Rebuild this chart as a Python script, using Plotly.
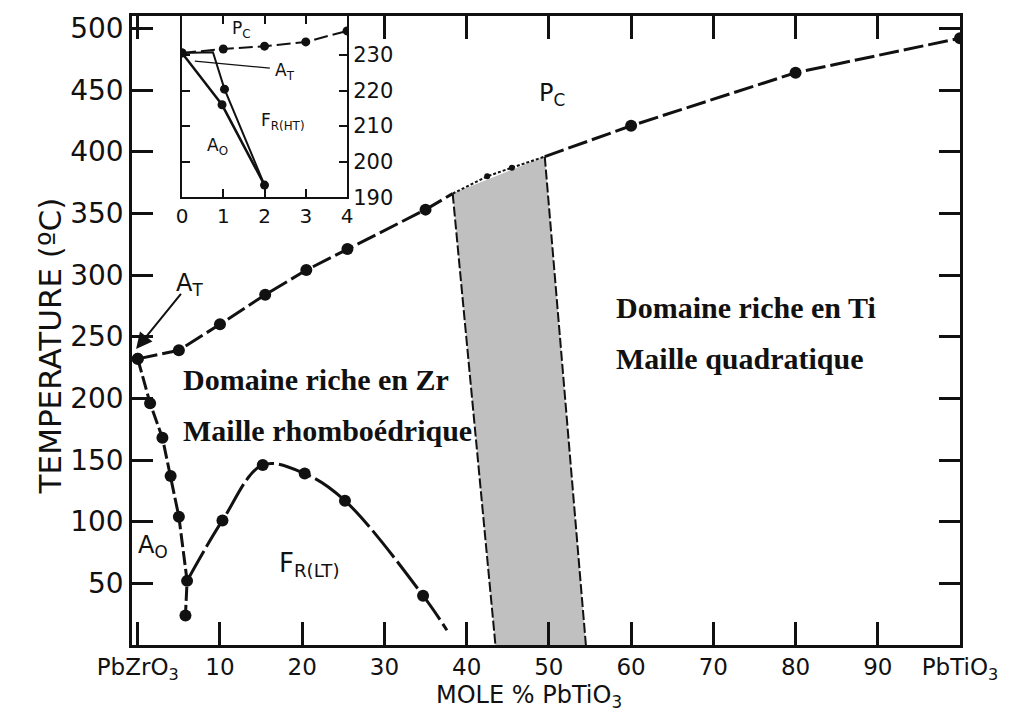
import plotly.graph_objects as go

# ---- main diagram: PbZrO3 - PbTiO3 phase boundaries ----
# Curie line P_C (cubic paraelectric boundary)
pc_x = [0, 5, 10, 15.5, 20.5, 25.5, 35, 42.5, 45.5, 60, 80, 100]
pc_y = [232, 239, 260, 284, 304, 321, 353, 380, 387, 421, 464, 492]
pc_small = [42.5, 45.5]          # compositions marked with small dots

# A_O / F_R boundary (antiferroelectric orthorhombic)
ao_x = [0, 1.5, 3, 4, 5, 6, 5.8]
ao_y = [232, 196, 168, 137, 104, 52, 24]

# F_R(LT) / F_R(HT) boundary
frl_x = [6, 10.3, 15.2, 20.3, 25.2, 34.7, 37.6]
frl_y = [52, 101, 146, 139, 117, 40, 12]
frl_marked = [10.3, 15.2, 20.3, 25.2, 34.7]

# morphotropic region (top-left, top-right, bottom-right, bottom-left)
mpb_x = [38.3, 49.5, 54.5, 43.5]
mpb_y = [366, 396, 0, 0]

x_ticks = [0, 10, 20, 30, 40, 50, 60, 70, 80, 90, 100]
x_ticktext = ["PbZrO<sub>3</sub>", "10", "20", "30", "40", "50",
              "60", "70", "80", "90", "PbTiO<sub>3</sub>"]
y_ticks = [50, 100, 150, 200, 250, 300, 350, 400, 450, 500]

# ---- inset: PbZrO3-rich corner ----
ins_pc_x = [0, 1, 2, 3, 4]
ins_pc_y = [230.6, 231.7, 232.5, 233.7, 236.8]
ins_ao_x = [0, 0.97, 2]
ins_ao_y = [230.6, 216, 193.4]
ins_at_x = [0, 0.75, 1.03, 2]
ins_at_y = [230.6, 230.8, 220.4, 193.4]
ins_at_lead_x = [0.31, 2.13]
ins_at_lead_y = [228.3, 226.3]
ins_x_ticks = [0, 1, 2, 3, 4]
ins_y_ticks = [190, 200, 210, 220, 230]

INK = "#111111"
SANS = "DejaVu Sans"
SERIF = "Liberation Serif"
DASH = "20px,5px"

fig = go.Figure()

# shaded morphotropic region
fig.add_trace(go.Scatter(x=mpb_x + [mpb_x[0]], y=mpb_y + [mpb_y[0]], mode="lines",
                         fill="toself", fillcolor="#c0c0c0",
                         line=dict(width=0), hoverinfo="skip"))
fig.add_trace(go.Scatter(x=[mpb_x[0], mpb_x[3]], y=[mpb_y[0], mpb_y[3]], mode="lines",
                         line=dict(color=INK, width=2, dash="10px,3px")))
fig.add_trace(go.Scatter(x=[mpb_x[1], mpb_x[2]], y=[mpb_y[1], mpb_y[2]], mode="lines",
                         line=dict(color=INK, width=2, dash="10px,3px")))

# Curie line split around the shaded region
left_x = [x for x in pc_x if x <= 35] + [mpb_x[0]]
left_y = [y for x, y in zip(pc_x, pc_y) if x <= 35] + [mpb_y[0]]
mid_x = [mpb_x[0]] + [x for x in pc_x if mpb_x[0] < x < mpb_x[1]] + [mpb_x[1]]
mid_y = [mpb_y[0]] + [y for x, y in zip(pc_x, pc_y) if mpb_x[0] < x < mpb_x[1]] + [mpb_y[1]]
right_x = [mpb_x[1]] + [x for x in pc_x if x >= 60]
right_y = [mpb_y[1]] + [y for x, y in zip(pc_x, pc_y) if x >= 60]

fig.add_trace(go.Scatter(x=left_x, y=left_y, mode="lines",
                         line=dict(color=INK, width=3, dash=DASH)))
fig.add_trace(go.Scatter(x=mid_x, y=mid_y, mode="lines",
                         line=dict(color=INK, width=2, dash="3px,2px")))
fig.add_trace(go.Scatter(x=right_x, y=right_y, mode="lines",
                         line=dict(color=INK, width=3, dash=DASH)))
fig.add_trace(go.Scatter(x=pc_x, y=pc_y, mode="markers",
                         marker=dict(color=INK, opacity=1, line=dict(width=0),
                                     size=[6 if x in pc_small else 12 for x in pc_x])))

# A_O boundary
fig.add_trace(go.Scatter(x=ao_x, y=ao_y, mode="lines+markers",
                         line=dict(color=INK, width=3, dash="14px,4px"),
                         marker=dict(color=INK, size=12, opacity=1)))

# F_R(LT) boundary
fig.add_trace(go.Scatter(x=frl_x, y=frl_y, mode="lines", line_shape="spline",
                         line=dict(color=INK, width=3, dash="34px,5px")))
fig.add_trace(go.Scatter(x=frl_marked, y=[y for x, y in zip(frl_x, frl_y) if x in frl_marked],
                         mode="markers", marker=dict(color=INK, size=12, opacity=1,
                                                     line=dict(width=0))))

# inset traces
fig.add_trace(go.Scatter(x=ins_pc_x, y=ins_pc_y, xaxis="x2", yaxis="y2", mode="lines+markers",
                         line=dict(color=INK, width=2, dash="14px,5px"),
                         marker=dict(color=INK, size=9, opacity=1)))
fig.add_trace(go.Scatter(x=ins_ao_x, y=ins_ao_y, xaxis="x2", yaxis="y2", mode="lines+markers",
                         line=dict(color=INK, width=2.5), marker=dict(color=INK, size=9, opacity=1)))
fig.add_trace(go.Scatter(x=ins_at_x, y=ins_at_y, xaxis="x2", yaxis="y2", mode="lines",
                         line=dict(color=INK, width=2)))
fig.add_trace(go.Scatter(x=[ins_at_x[2]], y=[ins_at_y[2]], xaxis="x2", yaxis="y2", mode="markers",
                         marker=dict(color=INK, size=9, opacity=1)))
fig.add_trace(go.Scatter(x=ins_at_lead_x, y=ins_at_lead_y, xaxis="x2", yaxis="y2", mode="lines",
                         line=dict(color=INK, width=1.2)))

ann = []


def label(x, y, text, size, xref="x", yref="y", font=SANS, anchor="center", bold=False):
    ann.append(dict(x=x, y=y, xref=xref, yref=yref, text=f"<b>{text}</b>" if bold else text,
                    showarrow=False, xanchor=anchor, yanchor="middle",
                    font=dict(family=font, size=size, color=INK)))


label(50.4, 446, "P<sub>C</sub>", 24)
label(6.3, 292, "A<sub>T</sub>", 24)
label(1.8, 80, "A<sub>O</sub>", 24)
label(20.9, 65, "F<sub>R(LT)</sub>", 26)
ann.append(dict(x=-0.2, y=240, ax=5.4, ay=286, xref="x", yref="y", axref="x", ayref="y",
                text="", showarrow=True, arrowhead=2, arrowsize=1.6, arrowwidth=2,
                arrowcolor=INK))

label(5.2, 215, "Domaine riche en Zr", 30, font=SERIF, anchor="left", bold=True)
label(5.2, 174, "Maille rhomboédrique", 30, font=SERIF, anchor="left", bold=True)
label(57.9, 274, "Domaine riche en Ti", 30, font=SERIF, anchor="left", bold=True)
label(57.9, 232, "Maille quadratique", 30, font=SERIF, anchor="left", bold=True)

# inset labels
label(1.45, 237.3, "P<sub>C</sub>", 17, "x2", "y2")
label(2.5, 225.3, "A<sub>T</sub>", 17, "x2", "y2")
label(2.45, 211.4, "F<sub>R(HT)</sub>", 17, "x2", "y2")
label(0.87, 204.4, "A<sub>O</sub>", 17, "x2", "y2")

# axis titles
ann.append(dict(x=-0.123, y=0.475, xref="paper", yref="paper", text="TEMPERATURE (ºC)",
                textangle=-90, showarrow=False, font=dict(family=SANS, size=31, color=INK)))
ann.append(dict(x=0.48, y=-0.082, xref="paper", yref="paper", text="MOLE % PbTiO<sub>3</sub>",
                showarrow=False, yanchor="middle", font=dict(family=SANS, size=24, color=INK)))

axis_common = dict(showline=True, linecolor=INK, linewidth=2.5, mirror="ticks",
                   ticks="inside", tickcolor=INK, tickwidth=2.5, showgrid=False, zeroline=False)

fig.update_layout(
    width=1027, height=723, autosize=False,
    margin=dict(l=132, r=67, t=13, b=78),
    plot_bgcolor="white", paper_bgcolor="white",
    showlegend=False,
    annotations=ann,
    xaxis=dict(range=[-0.7, 100], tickvals=x_ticks, ticktext=x_ticktext, ticklen=23,
               tickfont=dict(family=SANS, size=23, color=INK), **axis_common),
    yaxis=dict(range=[0, 510], tickvals=y_ticks, ticklen=21,
               tickfont=dict(family=SANS, size=28, color=INK), **axis_common),
    xaxis2=dict(domain=[0.0604, 0.2597], anchor="y2", range=[0, 4], tickvals=ins_x_ticks,
                ticklen=8, tickfont=dict(family=SANS, size=20, color=INK),
                showline=True, linecolor=INK, linewidth=2, mirror="ticks", ticks="inside",
                tickcolor=INK, tickwidth=1.5, showgrid=False, zeroline=False),
    yaxis2=dict(domain=[0.712, 1.0], anchor="x2", side="right", range=[190, 241],
                tickvals=ins_y_ticks, ticklen=8, tickfont=dict(family=SANS, size=21, color=INK),
                showline=True, linecolor=INK, linewidth=2, mirror="ticks", ticks="inside",
                tickcolor=INK, tickwidth=1.5, showgrid=False, zeroline=False),
)

fig.write_html("out.html")
